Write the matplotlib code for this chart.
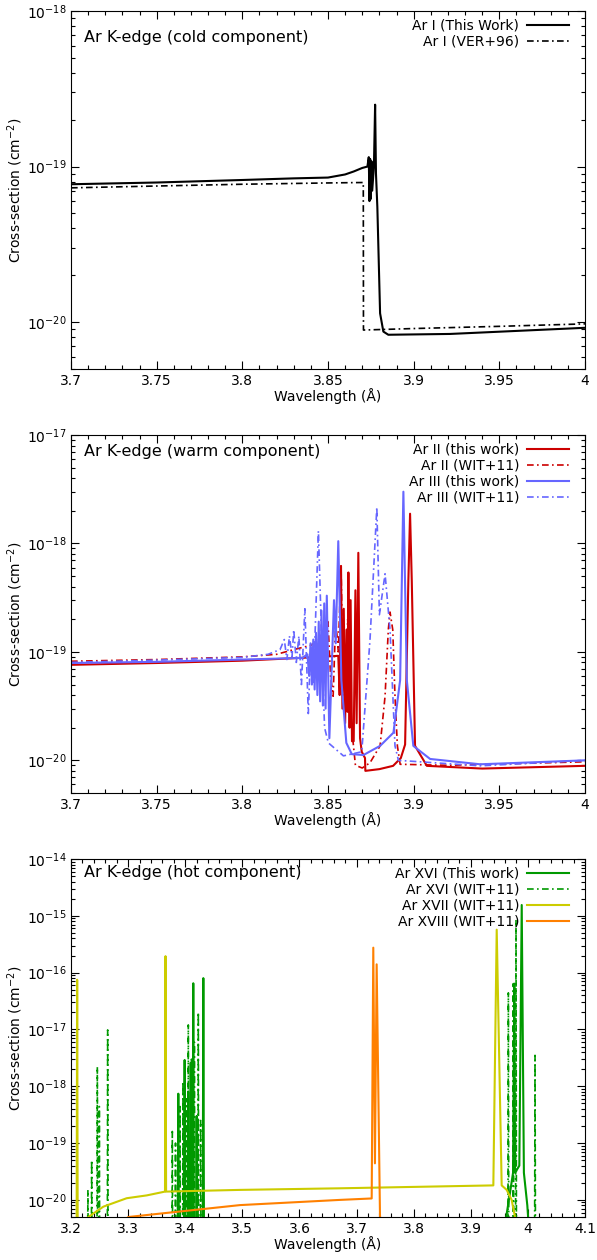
import matplotlib
matplotlib.use("Agg")
import matplotlib.pyplot as plt
from matplotlib.ticker import (FuncFormatter, MultipleLocator, AutoMinorLocator, LogLocator,
                               NullFormatter, FixedLocator, LogFormatterSciNotation)

# ---- panel 1: cold component ----
ar1_tw_wl = [3.70, 3.75, 3.80, 3.83, 3.85, 3.86, 3.865, 3.87, 3.873, 3.8738, 3.8742,
             3.8746, 3.8750, 3.8754, 3.8758, 3.8768, 3.8775, 3.8780, 3.8788, 3.8804,
             3.8823, 3.8852, 3.9212, 4.00]
ar1_tw_xs = [7.7e-20, 7.9e-20, 8.2e-20, 8.4e-20, 8.5e-20, 8.9e-20, 9.3e-20, 9.8e-20, 1.0e-19, 1.15e-19, 6.0e-20,
             1.12e-19, 6.2e-20, 1.08e-19, 7.0e-20, 1.0e-19, 2.5e-19, 9.0e-20, 5.5e-20, 1.14e-20,
             8.7e-21, 8.3e-21, 8.4e-21, 9.2e-21]
ar1_ver_wl = [3.70, 3.75, 3.80, 3.85, 3.8706, 3.8707, 3.90, 3.95, 4.00]
ar1_ver_xs = [7.3e-20, 7.5e-20, 7.7e-20, 7.85e-20, 7.9e-20, 8.9e-21, 9.1e-21, 9.4e-21, 9.75e-21]

# ---- panel 2: warm component ----
ar2_tw_wl = [3.70, 3.75, 3.80, 3.84, 3.856, 3.8568, 3.8576, 3.8584, 3.8592, 3.8600, 3.8608,
             3.8614, 3.8619, 3.8626, 3.8632, 3.8640, 3.8650, 3.8660, 3.8667, 3.8677, 3.8687,
             3.8697, 3.8716, 3.8718, 3.880, 3.888, 3.8925, 3.8950, 3.8969, 3.8979, 3.8989,
             3.9008, 3.9077, 3.94, 4.00]
ar2_tw_xs = [7.6e-20, 7.9e-20, 8.3e-20, 8.9e-20, 9.2e-20, 4.0e-20, 6.2e-19, 3.0e-20, 2.5e-19, 2.2e-20, 1.6e-19,
             2.8e-20, 5.4e-19, 2.0e-20, 3.0e-19, 1.5e-20, 1.5e-20, 3.7e-19, 2.2e-20, 8.2e-19, 1.6e-20,
             1.2e-20, 1.05e-20, 8.0e-21, 8.3e-21, 8.9e-21, 1.05e-20, 1.4e-20, 4.5e-19, 1.88e-18, 4.5e-19,
             1.36e-20, 8.9e-21, 8.4e-21, 8.9e-21]
ar2_wit_wl = [3.70, 3.75, 3.80, 3.82, 3.83, 3.84, 3.845, 3.850, 3.8515, 3.8530, 3.8545, 3.8560,
              3.8576, 3.8590, 3.8600, 3.8615, 3.8630, 3.8646, 3.8660, 3.8700, 3.8745, 3.8804,
              3.8833, 3.8852, 3.8862, 3.8878, 3.8891, 3.8905, 3.8921, 3.92, 4.00]
ar2_wit_xs = [8.2e-20, 8.5e-20, 9.0e-20, 9.5e-20, 1.05e-19, 1.15e-19, 1.3e-19, 1.9e-19, 6.0e-20, 3.9e-20, 2.0e-19, 1.0e-19,
              6.2e-19, 4.0e-20, 2.8e-20, 2.0e-19, 3.0e-20, 1.5e-20, 9.0e-21, 8.5e-21, 9.5e-21, 1.36e-20,
              3.9e-20, 1.6e-19, 2.33e-19, 1.6e-19, 3.9e-20, 1.36e-20, 9.2e-21, 9.0e-21, 9.7e-21]
ar3_tw_wl = [3.70, 3.75, 3.80, 3.835, 3.838, 3.839, 3.8398, 3.8406, 3.8414, 3.8422, 3.8430, 3.8438,
             3.8446, 3.8454, 3.8462, 3.8470, 3.8478, 3.8486, 3.8493, 3.8508, 3.8535, 3.8545, 3.8560,
             3.8578, 3.8607, 3.8639, 3.8707, 3.8804, 3.8882, 3.8921, 3.8940, 3.8960, 3.8998,
             3.9096, 3.9388, 4.00]
ar3_tw_xs = [7.9e-20, 8.1e-20, 8.5e-20, 8.8e-20, 9.5e-20, 6.0e-20, 1.2e-19, 5.0e-20, 1.3e-19, 4.5e-20, 1.5e-19, 4.0e-20,
             1.9e-19, 3.5e-20, 2.4e-19, 3.2e-20, 2.8e-19, 3.0e-20, 3.3e-19, 1.6e-20, 3.0e-19, 1.2e-19, 1.05e-18,
             5.5e-20, 1.45e-20, 1.14e-20, 1.12e-20, 1.36e-20, 1.8e-20, 5.5e-20, 3.0e-18, 5.5e-20, 1.36e-20,
             1.03e-20, 9.2e-21, 1.0e-20]
ar3_wit_wl = [3.70, 3.75, 3.80, 3.815, 3.822, 3.8245, 3.826, 3.8275, 3.829, 3.830, 3.8315, 3.833,
              3.8345, 3.8365, 3.8385, 3.8400, 3.8415, 3.8444, 3.8465, 3.8480, 3.8502, 3.8590, 3.8697,
              3.8745, 3.8785, 3.8800, 3.8833, 3.8862, 3.8891, 3.8911, 3.9388, 4.00]
ar3_wit_xs = [8.0e-20, 8.4e-20, 8.9e-20, 9.5e-20, 1.05e-19, 1.3e-19, 8.5e-20, 1.4e-19, 9.0e-20, 1.6e-19, 8.0e-20, 1.4e-19,
              5.0e-20, 2.5e-19, 2.7e-20, 1.2e-19, 5.0e-20, 1.3e-18, 1.0e-19, 2.0e-20, 1.45e-20, 1.1e-20, 1.2e-20,
              1.28e-19, 2.15e-18, 2.2e-19, 5.25e-19, 1.6e-19, 1.36e-20, 1.0e-20, 8.9e-21, 1.0e-20]

# ---- panel 3: hot component ----
ar16_tw_wl = [3.3865, 3.3879, 3.3890, 3.3975, 3.3990, 3.4000, 3.4040, 3.4050, 3.4060, 3.4085, 3.4096,
              3.4106, 3.4132, 3.4141, 3.4150, 3.4190, 3.4200, 3.4210, 3.4305, 3.4317, 3.4329,
              3.955, 3.962, 3.968, 3.9740, 3.9762, 3.9775, 3.9850, 3.9892, 3.9930, 3.9990, 4.005]
ar16_tw_xs = [1e-21, 7.4e-19, 1e-21, 1e-21, 2.9e-18, 1e-21, 1e-21, 8.0e-19, 1e-21, 1e-21, 2.6e-18,
              1e-21, 1e-21, 6.5e-17, 1e-21, 1e-21, 3.0e-19, 1e-21, 1e-21, 8.0e-17, 1e-21,
              1e-21, 5e-21, 1.2e-20, 3.0e-20, 6.4e-17, 3.0e-20, 4.0e-20, 1.55e-15, 3.0e-20, 8e-21, 1e-21]
ar16_wit_wl = [3.2290, 3.2296, 3.2302, 3.2356, 3.2362, 3.2368, 3.2455, 3.2461, 3.2467, 3.2490, 3.2496,
               3.2502, 3.2636, 3.2642, 3.2648,
               3.3768, 3.3774, 3.3780, 3.3824, 3.3830, 3.3836, 3.3903, 3.3909, 3.3915, 3.3954, 3.3960,
               3.3966, 3.4014, 3.4020, 3.4026, 3.4048, 3.4054, 3.4060, 3.4104, 3.4110, 3.4116, 3.4154,
               3.4160, 3.4166, 3.4223, 3.4229, 3.4235, 3.4264, 3.4270, 3.4276,
               3.9650, 3.9658, 3.9666, 3.9737, 3.9745, 3.9753, 3.9784, 3.9792, 3.9800, 4.0117, 4.0125, 4.0133]
ar16_wit_xs = [1e-21, 1.5e-20, 1e-21, 1e-21, 5.0e-20, 1e-21, 1e-21, 2.2e-18, 1e-21, 1e-21, 4.4e-19,
               1e-21, 1e-21, 9.8e-18, 1e-21,
               1e-21, 1.6e-19, 1e-21, 1e-21, 1.0e-19, 1e-21, 1e-21, 4.4e-19, 1e-21, 1e-21, 1.2e-18,
               1e-21, 1e-21, 6.0e-19, 1e-21, 1e-21, 1.2e-17, 1e-21, 1e-21, 3.0e-18, 1e-21, 1e-21,
               6.0e-18, 1e-21, 1e-21, 2.0e-17, 1e-21, 1e-21, 2.5e-19, 1e-21,
               1e-21, 4.4e-17, 1e-21, 1e-21, 6.4e-17, 1e-21, 1e-21, 8.5e-16, 1e-21, 1e-21, 3.5e-18, 1e-21]
ar17_wl = [3.2098, 3.2108, 3.2118, 3.2303, 3.2566, 3.2975, 3.3326, 3.3646, 3.3655, 3.3665, 3.4959,
           3.6710, 3.9395, 3.9454, 3.9541, 3.9629, 3.9716, 3.9774, 3.985]
ar17_xs = [1e-21, 7.5e-17, 1e-21, 5e-21, 7.6e-21, 1.07e-20, 1.2e-20, 1.4e-20, 1.95e-16, 1.4e-20, 1.5e-20,
           1.6e-20, 1.8e-20, 5.7e-16, 1.8e-20, 1.5e-20, 1.0e-20, 5e-21, 1e-21]
ar18_wl = [3.29, 3.3003, 3.4959, 3.6710, 3.7265, 3.7293, 3.7322, 3.7352, 3.7410, 3.745]
ar18_xs = [4e-21, 5e-21, 8.1e-21, 1.0e-20, 1.06e-20, 2.75e-16, 4.4e-20, 1.4e-16, 5.5e-21, 1e-21]

# decade ticks shown on each panel
p1_decades = [1e-20, 1e-19, 1e-18]
p2_decades = [1e-20, 1e-19, 1e-18, 1e-17]
p3_decades = [1e-20, 1e-19, 1e-18, 1e-17, 1e-16, 1e-15, 1e-14]

RED = "#cc0000"
BLUE = "#6666ff"
GREEN = "#009900"
YELLOW = "#cccc00"
ORANGE = "#ff8000"
DASHDOT = (0, (4, 2, 1, 2))

plt.rcParams["font.family"] = "DejaVu Sans"
plt.rcParams["font.size"] = 10

fig = plt.figure(figsize=(5.97, 12.6), dpi=100)
W, H = 597.0, 1260.0


def make_axes(top_px, bottom_px):
    return fig.add_axes([71 / W, 1 - bottom_px / H, (585 - 71) / W, (bottom_px - top_px) / H])


def style(ax, xlim, ylim, major, decades, title, title_y):
    ax.set_yscale("log")
    ax.set_xlim(*xlim)
    ax.set_ylim(*ylim)
    ax.xaxis.set_major_locator(MultipleLocator(major))
    ax.xaxis.set_minor_locator(AutoMinorLocator(5))
    ax.xaxis.set_major_formatter(FuncFormatter(lambda v, p: "%g" % round(v, 3)))
    ax.yaxis.set_major_locator(FixedLocator(decades))
    ax.yaxis.set_major_formatter(LogFormatterSciNotation())
    ax.yaxis.set_minor_locator(LogLocator(base=10, subs=range(2, 10), numticks=20))
    ax.yaxis.set_minor_formatter(NullFormatter())
    ax.tick_params(which="both", direction="in", top=True, right=True, labelsize=10)
    ax.tick_params(which="major", length=6, width=0.8)
    ax.tick_params(which="minor", length=3, width=0.8)
    ax.tick_params(axis="y", which="major", pad=3)
    ax.set_xlabel("Wavelength (Å)", labelpad=0)
    ax.set_ylabel("Cross-section (cm$^{-2}$)")
    ax.yaxis.set_label_coords(-0.09, 0.5)
    ax.text(0.025, title_y, title, transform=ax.transAxes, ha="left", va="center", fontsize=11.5)
    ax.legend(loc="upper right", bbox_to_anchor=(0.988, 1.006), frameon=False, markerfirst=False,
              handlelength=3.0, labelspacing=0.15, borderaxespad=0.3, handletextpad=0.6, fontsize=10)


ax1 = make_axes(11, 369)
ax1.plot(ar1_tw_wl, ar1_tw_xs, color="black", lw=1.5, label="Ar I (This Work)")
ax1.plot(ar1_ver_wl, ar1_ver_xs, color="black", lw=1.2, ls=DASHDOT, label="Ar I (VER+96)")
style(ax1, (3.7, 4.0), (5e-21, 1e-18), 0.05, p1_decades, "Ar K-edge (cold component)", 0.927)

ax2 = make_axes(435, 793)
ax2.plot(ar2_tw_wl, ar2_tw_xs, color=RED, lw=1.5, label="Ar II (this work)")
ax2.plot(ar2_wit_wl, ar2_wit_xs, color=RED, lw=1.2, ls=DASHDOT, label="Ar II (WIT+11)")
ax2.plot(ar3_tw_wl, ar3_tw_xs, color=BLUE, lw=1.5, label="Ar III (this work)")
ax2.plot(ar3_wit_wl, ar3_wit_xs, color=BLUE, lw=1.2, ls=DASHDOT, label="Ar III (WIT+11)")
style(ax2, (3.7, 4.0), (5e-21, 1e-17), 0.05, p2_decades, "Ar K-edge (warm component)", 0.955)

ax3 = make_axes(859, 1217)
ax3.plot(ar16_tw_wl, ar16_tw_xs, color=GREEN, lw=1.5, label="Ar XVI (This work)")
ax3.plot(ar16_wit_wl, ar16_wit_xs, color=GREEN, lw=1.2, ls=DASHDOT, label="Ar XVI (WIT+11)")
ax3.plot(ar17_wl, ar17_xs, color=YELLOW, lw=1.5, label="Ar XVII (WIT+11)")
ax3.plot(ar18_wl, ar18_xs, color=ORANGE, lw=1.5, label="Ar XVIII (WIT+11)")
style(ax3, (3.2, 4.1), (5e-21, 1e-14), 0.1, p3_decades, "Ar K-edge (hot component)", 0.963)

fig.savefig("out.png", dpi=100)
